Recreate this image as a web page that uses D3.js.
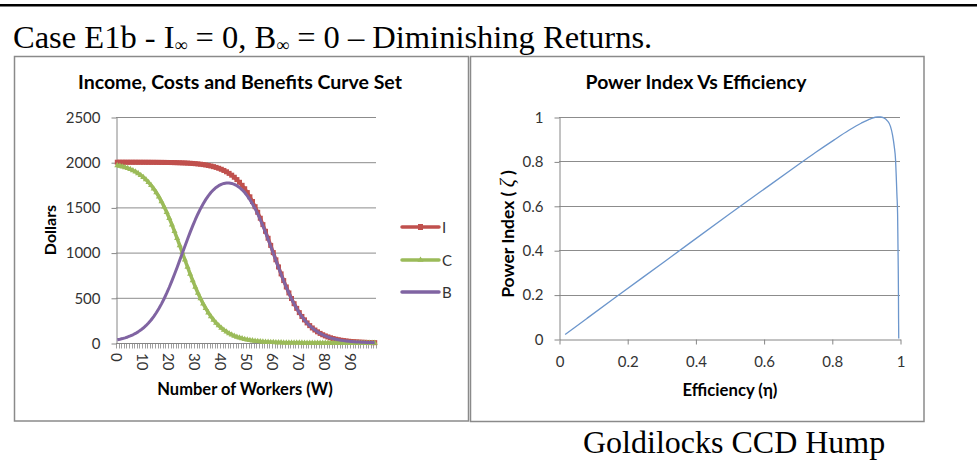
<!DOCTYPE html>
<html>
<head>
<meta charset="utf-8">
<script src="https://cdn.jsdelivr.net/npm/d3@7"></script>
<style>
  html, body { margin: 0; padding: 0; background: #fff; }
  svg { display: block; }
</style>
</head>
<body>
<svg id="fig" width="977" height="465"></svg>
<script>
// ---- Data: income, costs and benefits per number of workers ----
const workers = [
  0,1,2,3,4,5,6,7,8,9,10,11,12,13,14,15,16,17,18,19,
  20,21,22,23,24,25,26,27,28,29,30,31,32,33,34,35,36,37,38,39,
  40,41,42,43,44,45,46,47,48,49,50,51,52,53,54,55,56,57,58,59,
  60,61,62,63,64,65,66,67,68,69,70,71,72,73,74,75,76,77,78,79,
  80,81,82,83,84,85,86,87,88,89,90,91,92,93,94,95,96,97,98,99
];
const workerTickLabels = ["0","10","20","30","40","50","60","70","80","90"];

const income = [
  1999.9,1999.8,1999.8,1999.8,1999.7,1999.7,1999.6,1999.6,1999.5,1999.4,
  1999.3,1999.2,1999.1,1998.9,1998.7,1998.5,1998.2,1997.9,1997.6,1997.2,
  1996.7,1996.1,1995.4,1994.6,1993.7,1992.6,1991.4,1989.9,1988.1,1986.1,
  1983.7,1980.9,1977.6,1973.7,1969.3,1964.0,1957.9,1950.8,1942.5,1932.9,
  1921.7,1908.7,1893.7,1876.4,1856.5,1833.7,1807.6,1777.9,1744.3,1706.4,
  1664.0,1616.9,1564.9,1508.0,1446.2,1380.0,1309.5,1235.5,1158.6,1079.8,
  1000.0,920.2,841.4,764.5,690.5,620.0,553.8,492.0,435.1,383.1,
  336.0,293.6,255.7,222.1,192.4,166.3,143.5,123.6,106.3,91.3,
  78.3,67.1,57.5,49.2,42.1,36.0,30.7,26.3,22.4,19.1,
  16.3,13.9,11.9,10.1,8.6,7.4,6.3,5.4,4.6,3.9
];
const costs = [
  1964.0,1957.9,1950.8,1942.5,1932.9,1921.7,1908.7,1893.7,1876.4,1856.5,
  1833.7,1807.6,1777.9,1744.3,1706.4,1664.0,1616.9,1564.9,1508.0,1446.2,
  1380.0,1309.5,1235.5,1158.6,1079.8,1000.0,920.2,841.4,764.5,690.5,
  620.0,553.8,492.0,435.1,383.1,336.0,293.6,255.7,222.1,192.4,
  166.3,143.5,123.6,106.3,91.3,78.3,67.1,57.5,49.2,42.1,
  36.0,30.7,26.3,22.4,19.1,16.3,13.9,11.9,10.1,8.6,
  7.4,6.3,5.4,4.6,3.9,3.3,2.8,2.4,2.1,1.8,
  1.5,1.3,1.1,0.9,0.8,0.7,0.6,0.5,0.4,0.35,
  0.3,0.26,0.22,0.19,0.16,0.14,0.12,0.1,0.08,0.07,
  0.06,0.05,0.04,0.04,0.03,0.03,0.02,0.02,0.02,0.01
];
const benefits = [
  35.9,41.9,49.0,57.3,66.8,78.0,90.9,105.9,123.1,142.9,
  165.6,191.6,221.2,254.6,292.3,334.5,381.3,433.0,489.6,551.0,
  616.7,686.6,759.9,836.0,913.9,992.6,1071.2,1148.5,1223.6,1295.6,
  1363.7,1427.1,1485.6,1538.6,1586.2,1628.0,1664.3,1695.1,1720.4,1740.5,
  1755.4,1765.2,1770.1,1770.1,1765.2,1755.4,1740.5,1720.4,1695.1,1664.3,
  1628.0,1586.2,1538.6,1485.6,1427.1,1363.7,1295.6,1223.6,1148.5,1071.2,
  992.6,913.9,836.0,759.9,686.6,616.7,551.0,489.6,433.0,381.3,
  334.5,292.3,254.6,221.2,191.6,165.6,142.9,123.1,105.9,91.0,
  78.0,66.8,57.3,49.0,41.9,35.9,30.6,26.2,22.3,19.0,
  16.2,13.9,11.9,10.1,8.6,7.4,6.3,5.4,4.6,3.9
];
const dollarTicks = [0, 500, 1000, 1500, 2000, 2500];

// ---- Data: power index against efficiency ----
const efficiency = [
  0.018,0.039,0.083,0.167,0.309,0.498,0.616,0.688,0.751,0.806,
  0.850,0.886,0.914,0.935,0.943,0.951,0.963,0.972,0.978,0.983,
  0.987,0.989,0.991,0.993,0.994,0.9949,0.9955,0.9958,0.9961,0.99625,0.9963
];
const powerIndex = [
  0.020,0.044,0.094,0.189,0.348,0.561,0.691,0.770,0.839,0.896,
  0.940,0.972,0.992,1.000,1.000,0.997,0.983,0.958,0.920,0.869,
  0.806,0.732,0.649,0.561,0.429,0.311,0.189,0.094,0.044,0.009,0.002
];
const unitTicks = [0, 0.2, 0.4, 0.6, 0.8, 1];

// ---- Styling ----
const UI = "Lato, 'Open Sans', sans-serif";
const SERIF = "'Liberation Serif', 'Times New Roman', serif";
const AXIS = "#868686";
const GRID = "#8c8c8c";
const TXT = "#333";
const colI = "#C0504D", colC = "#9BBB59", colB = "#8064A2", colP = "#6C96CC";

const svg = d3.select("#fig");

// Rule at the top of the page and the heading
svg.append("rect").attr("x", 0).attr("y", 4).attr("width", 977).attr("height", 2.5).attr("fill", "#000");
const hdr = svg.append("text").attr("x", 13).attr("y", 48)
  .attr("font-family", SERIF).attr("font-size", 32.5).attr("fill", "#000");
hdr.append("tspan").text("Case E1b - I");
hdr.append("tspan").attr("font-size", 18).attr("dy", 3).text("\u221E");
hdr.append("tspan").attr("dy", -3).text(" = 0, B");
hdr.append("tspan").attr("font-size", 18).attr("dy", 3).text("\u221E");
hdr.append("tspan").attr("dy", -3).text(" = 0 \u2013 Diminishing Returns.");

// Chart frames
svg.append("rect").attr("x", 14.5).attr("y", 56.5).attr("width", 454).attr("height", 364.5)
  .attr("fill", "#fff").attr("stroke", "#8a8a8a").attr("stroke-width", 1.5);
svg.append("rect").attr("x", 470.5).attr("y", 56.5).attr("width", 453.5).attr("height", 365)
  .attr("fill", "#fff").attr("stroke", "#8a8a8a").attr("stroke-width", 1.5);

function styleAxis(g) {
  g.selectAll("path.domain").attr("stroke", AXIS).attr("stroke-width", 1);
  g.selectAll(".tick line").attr("stroke", AXIS).attr("stroke-width", 1);
  g.selectAll(".tick text").attr("font-family", UI).attr("font-size", 15).attr("fill", TXT);
}

// ================= Left chart: Income, Costs and Benefits =================
const xL = d3.scaleBand().domain(workers).range([116, 376]);
const yL = d3.scaleLinear().domain([0, 2500]).range([343, 117]);
const cx = i => xL(i) + xL.bandwidth() / 2;

svg.append("text").attr("x", 240).attr("y", 89).attr("text-anchor", "middle")
  .attr("font-family", UI).attr("font-weight", "bold").attr("font-size", 19.5).attr("fill", "#000")
  .text("Income, Costs and Benefits Curve Set");

// gridlines
svg.append("g").selectAll("line").data(dollarTicks.filter(d => d > 0)).join("line")
  .attr("x1", 116).attr("x2", 376).attr("y1", d => yL(d) + 0.5).attr("y2", d => yL(d) + 0.5)
  .attr("stroke", GRID).attr("stroke-width", 1);

// vertical axis
const gyL = svg.append("g").attr("transform", "translate(116.5,0.5)")
  .call(d3.axisLeft(yL).tickValues(dollarTicks).tickSize(5).tickSizeOuter(0).tickPadding(11).tickFormat(d3.format("d")));
styleAxis(gyL);

// horizontal category axis with a tick at each category boundary
const gxL = svg.append("g");
gxL.append("line").attr("x1", 116).attr("x2", 376).attr("y1", yL(0) + 0.5).attr("y2", yL(0) + 0.5)
  .attr("stroke", AXIS);
gxL.selectAll("line.mt").data(workers.map(i => xL(i)).concat([xL.range()[1]])).join("line")
  .attr("class", "mt").attr("x1", d => Math.round(d) + 0.5).attr("x2", d => Math.round(d) + 0.5)
  .attr("y1", yL(0)).attr("y2", yL(0) + 5.5).attr("stroke", AXIS).attr("stroke-width", 0.8);
gxL.selectAll("text").data(workerTickLabels).join("text")
  .attr("transform", d => `translate(${cx(+d)},${yL(0) + 10}) rotate(90)`)
  .attr("text-anchor", "start").attr("dominant-baseline", "central")
  .attr("font-family", UI).attr("font-size", 15).attr("fill", TXT)
  .text(d => d);

// axis titles
svg.append("text").attr("transform", `translate(49,${(yL(0) + yL(2500)) / 2}) rotate(-90)`)
  .attr("text-anchor", "middle").attr("dominant-baseline", "central")
  .attr("font-family", UI).attr("font-weight", "bold").attr("font-size", 16).attr("fill", "#000")
  .text("Dollars");
svg.append("text").attr("x", 245).attr("y", 395).attr("text-anchor", "middle")
  .attr("font-family", UI).attr("font-weight", "bold").attr("font-size", 16.5).attr("fill", "#000")
  .text("Number of Workers (W)");

// series
const lineL = vals => d3.line().x((d, i) => cx(workers[i])).y(d => yL(d))(vals);
const plotL = svg.append("g");
plotL.append("path").attr("d", lineL(income)).attr("fill", "none").attr("stroke", colI)
  .attr("stroke-width", 3.5).attr("stroke-linejoin", "round");
plotL.append("g").selectAll("rect").data(income).join("rect")
  .attr("x", (d, i) => cx(workers[i]) - 2.5).attr("y", d => yL(d) - 2.5)
  .attr("width", 5).attr("height", 5).attr("fill", colI);

plotL.append("path").attr("d", lineL(costs)).attr("fill", "none").attr("stroke", colC)
  .attr("stroke-width", 3.5).attr("stroke-linejoin", "round");
const tri = d3.symbol().type(d3.symbolTriangle).size(16);
plotL.append("g").selectAll("path").data(costs).join("path")
  .attr("transform", (d, i) => `translate(${cx(workers[i])},${yL(d)})`)
  .attr("d", tri).attr("fill", colC);

plotL.append("path").attr("d", lineL(benefits)).attr("fill", "none").attr("stroke", colB)
  .attr("stroke-width", 3).attr("stroke-linejoin", "round");

// legend
const legend = [
  { name: "I", color: colI, marker: "square" },
  { name: "C", color: colC, marker: "triangle" },
  { name: "B", color: colB, marker: null }
];
const legY = [227, 260, 292];
const lg = svg.append("g");
legend.forEach((s, k) => {
  const y = legY[k];
  lg.append("line").attr("x1", 402).attr("x2", 439).attr("y1", y).attr("y2", y)
    .attr("stroke", s.color).attr("stroke-width", 3.5).attr("stroke-linecap", "round");
  if (s.marker === "square") {
    lg.append("rect").attr("x", 418).attr("y", y - 3).attr("width", 5).attr("height", 6).attr("fill", s.color);
  } else if (s.marker === "triangle") {
    lg.append("path").attr("transform", `translate(420.5,${y})`).attr("d", tri).attr("fill", s.color);
  }
  lg.append("text").attr("x", 442).attr("y", y).attr("dominant-baseline", "central")
    .attr("font-family", UI).attr("font-size", 15).attr("fill", TXT).text(s.name);
});

// ================= Right chart: Power Index Vs Efficiency =================
const xR = d3.scaleLinear().domain([0, 1]).range([559, 900]);
const yR = d3.scaleLinear().domain([0, 1]).range([339, 117]);

svg.append("text").attr("x", 696).attr("y", 89).attr("text-anchor", "middle")
  .attr("font-family", UI).attr("font-weight", "bold").attr("font-size", 19.4).attr("fill", "#000")
  .text("Power Index Vs Efficiency");

svg.append("g").selectAll("line").data(unitTicks.filter(d => d > 0)).join("line")
  .attr("x1", 559).attr("x2", 900).attr("y1", d => Math.round(yR(d)) + 0.5).attr("y2", d => Math.round(yR(d)) + 0.5)
  .attr("stroke", GRID).attr("stroke-width", 1);

const gyR = svg.append("g").attr("transform", "translate(559.5,0.5)")
  .call(d3.axisLeft(yR).tickValues(unitTicks).tickSize(5).tickSizeOuter(0).tickPadding(11).tickFormat(d => d3.format("~g")(d)));
styleAxis(gyR);
const gxR = svg.append("g").attr("transform", "translate(0.5,339.5)")
  .call(d3.axisBottom(xR).tickValues(unitTicks).tickSize(5).tickSizeOuter(0).tickPadding(12).tickFormat(d => d3.format("~g")(d)));
styleAxis(gxR);

const ytR = svg.append("text").attr("transform", "translate(507,234) rotate(-90)")
  .attr("text-anchor", "middle").attr("dominant-baseline", "central")
  .attr("font-family", UI).attr("font-weight", "bold").attr("font-size", 17.5).attr("fill", "#000");
ytR.append("tspan").text("Power Index ( ");
ytR.append("tspan").attr("font-family", SERIF).attr("font-style", "italic").attr("font-weight", "normal")
  .attr("font-size", 20).text("\u03B6");
ytR.append("tspan").text(" )");
svg.append("text").attr("x", 730).attr("y", 396).attr("text-anchor", "middle")
  .attr("font-family", UI).attr("font-weight", "bold").attr("font-size", 16.7).attr("fill", "#000")
  .text("Efficiency (\u03B7)");

const lineR = d3.line().curve(d3.curveMonotoneX).x((d, i) => xR(d)).y((d, i) => yR(powerIndex[i]));
svg.append("path").attr("d", lineR(efficiency)).attr("fill", "none")
  .attr("stroke", colP).attr("stroke-width", 1.3);

// caption under the right chart
svg.append("text").attr("x", 583).attr("y", 453)
  .attr("font-family", SERIF).attr("font-size", 32).attr("fill", "#000")
  .text("Goldilocks CCD Hump");
</script>
</body>
</html>
